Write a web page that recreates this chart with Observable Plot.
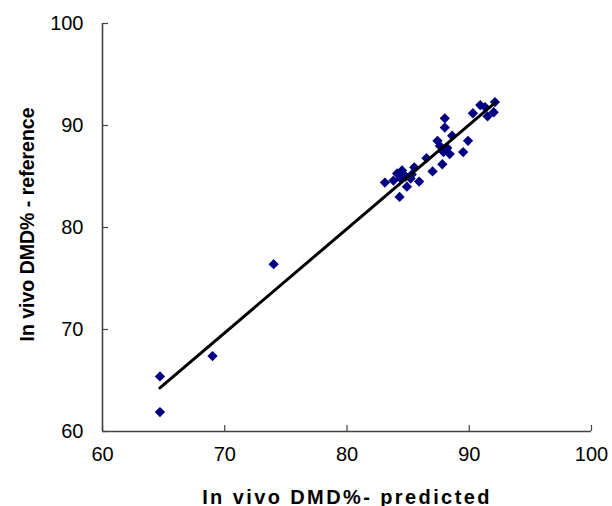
<!DOCTYPE html>
<html>
<head>
<meta charset="utf-8">
<script src="https://cdn.jsdelivr.net/npm/d3@7"></script>
<script src="https://cdn.jsdelivr.net/npm/@observablehq/plot@0.6"></script>
<style>
  html, body { margin: 0; padding: 0; background: #fff; }
  #chart svg { display: block; }
</style>
</head>
<body>
<div id="chart"></div>
<script>
const predicted = [92.1, 90.9, 91.3, 90.3, 92.0, 91.5, 88.0, 88.0, 88.6, 87.4, 89.9, 87.6, 88.2, 87.9, 88.4, 89.5, 86.5, 87.8, 85.5, 87.0, 84.5, 84.1, 83.1, 83.8, 85.2, 85.9, 84.9, 84.3, 84.8, 84.4, 85.3, 74.0, 69.0, 64.7, 64.7];
const reference = [92.3, 92.0, 91.8, 91.2, 91.3, 90.9, 90.7, 89.8, 89.0, 88.5, 88.5, 88.0, 87.8, 87.4, 87.2, 87.4, 86.8, 86.2, 85.9, 85.5, 85.6, 85.3, 84.4, 84.6, 84.8, 84.5, 84.0, 83.0, 85.0, 84.8, 85.2, 76.4, 67.4, 65.4, 61.9];
const xTicks = [60, 70, 80, 90, 100];
const yTicks = [60, 70, 80, 90, 100];
const xTitle = "In vivo DMD%- predicted";
const yTitle = "In vivo DMD% - reference";

const data = predicted.map((p, i) => ({predicted: p, reference: reference[i]}));

const chart = Plot.plot({
  width: 612,
  height: 506,
  marginLeft: 102,
  marginRight: 21,
  marginTop: 23,
  marginBottom: 75,
  style: {fontFamily: "'Liberation Sans', Arial, sans-serif", background: "#fff"},
  x: {domain: [60, 100], label: null},
  y: {domain: [60, 100], label: null},
  marks: [
    Plot.axisX(xTicks, {tickSize: -6, text: null, label: null, stroke: "#444", strokeWidth: 1.2}),
    Plot.axisY(yTicks, {tickSize: -6, text: null, label: null, stroke: "#444", strokeWidth: 1.2}),
    Plot.axisX(xTicks, {tickSize: 0, tickPadding: 15, fontSize: 20, fill: "#000", label: null}),
    Plot.axisY(yTicks, {tickSize: 0, tickPadding: 19, fontSize: 20, fill: "#000", label: null}),
    Plot.ruleY([60], {stroke: "#444", strokeWidth: 1.6}),
    Plot.ruleX([60], {stroke: "#444", strokeWidth: 1.6}),
    Plot.dot(data, {x: "predicted", y: "reference", symbol: "square", rotate: 45, r: 4.1, fill: "#000080", stroke: "none"}),
    Plot.linearRegressionY(data, {x: "predicted", y: "reference", ci: 0, stroke: "#000", strokeWidth: 3}),
    Plot.text([xTitle], {frameAnchor: "bottom", dy: 72, lineAnchor: "bottom", textAnchor: "middle", fontSize: 20, fontWeight: "bold", fill: "#000"}),
    Plot.text([yTitle], {frameAnchor: "left", dx: -69, dy: -3, rotate: -90, lineAnchor: "bottom", textAnchor: "middle", fontSize: 19.5, fontWeight: "bold", fill: "#000"})
  ]
});
d3.select(chart).selectAll("text").filter(function() { return this.textContent === xTitle; })
  .style("letter-spacing", "2.4px");
document.getElementById("chart").appendChild(chart);
</script>
</body>
</html>
